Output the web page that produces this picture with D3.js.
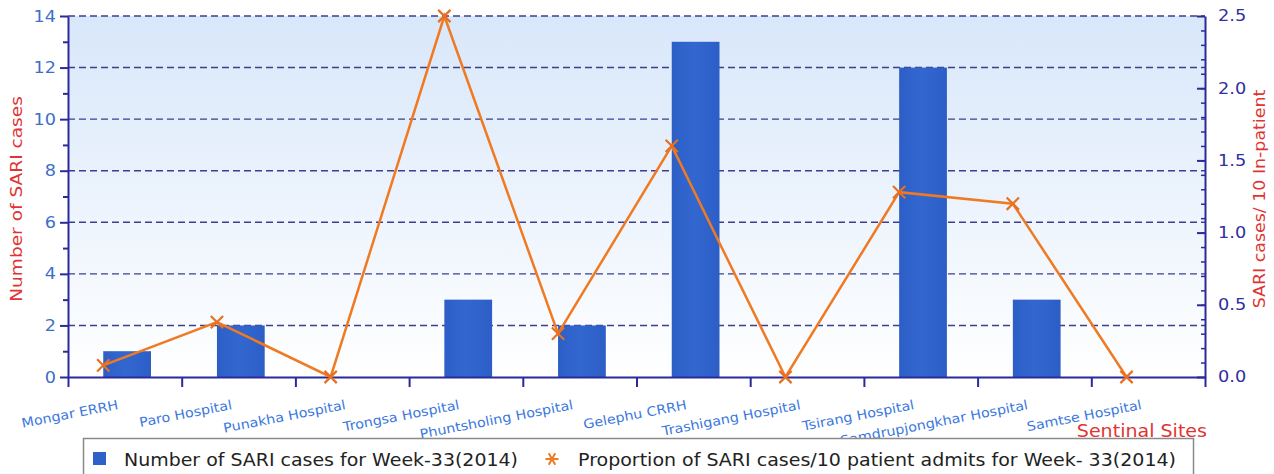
<!DOCTYPE html>
<html>
<head>
<meta charset="utf-8">
<script src="https://cdn.jsdelivr.net/npm/d3@7"></script>
<style>
  body { margin: 0; background: #fff; }
  svg { display: block; font-family: "DejaVu Sans", sans-serif; }
</style>
</head>
<body>
<div id="chart"></div>
<script>
// ---------- data
const sites = ["Mongar ERRH", "Paro Hospital", "Punakha Hospital", "Trongsa Hospital",
  "Phuntsholing Hospital", "Gelephu CRRH", "Trashigang Hospital", "Tsirang Hospital",
  "Samdrupjongkhar Hospital", "Samtse Hospital"]
const sariCases = [1, 2, 0, 3, 2, 13, 0, 12, 3, 0]
const sariProportion = [0.08, 0.38, 0, 2.5, 0.3, 1.6, 0, 1.28, 1.2, 0]
const leftTicks = [0, 2, 4, 6, 8, 10, 12, 14]
const rightTicks = [0, 0.5, 1, 1.5, 2, 2.5]
const barLabel = "Number of SARI cases for Week-33(2014)"
const lineLabel = "Proportion of SARI cases/10 patient admits for Week- 33(2014)"

// ---------- dimensions
const dims = { width: 1274, height: 474, margin: { top: 16, right: 69, bottom: 97, left: 68 } }
dims.boundedWidth = dims.width - dims.margin.left - dims.margin.right
dims.boundedHeight = dims.height - dims.margin.top - dims.margin.bottom

const svg = d3.select("#chart").append("svg")
  .attr("width", dims.width)
  .attr("height", dims.height)

const defs = svg.append("defs")
const bg = defs.append("linearGradient").attr("id", "bg").attr("x1", 0).attr("y1", 0).attr("x2", 0).attr("y2", 1)
bg.append("stop").attr("offset", "0%").attr("stop-color", "#d8e7fa")
bg.append("stop").attr("offset", "100%").attr("stop-color", "#ffffff")
const barGrad = defs.append("linearGradient").attr("id", "barGrad").attr("x1", 0).attr("y1", 0).attr("x2", 1).attr("y2", 0)
barGrad.append("stop").attr("offset", "0%").attr("stop-color", "#2c5ec6")
barGrad.append("stop").attr("offset", "45%").attr("stop-color", "#3367d0")
barGrad.append("stop").attr("offset", "100%").attr("stop-color", "#2c5ec6")

const bounds = svg.append("g")
  .attr("transform", `translate(${dims.margin.left},${dims.margin.top})`)

// stretch text a little wider, the original font runs wider than DejaVu
const widen = (sel, k) => sel.each(function () {
  const w = this.getComputedTextLength()
  d3.select(this).attr("textLength", w * k).attr("lengthAdjust", "spacingAndGlyphs")
})

// ---------- scales
const xScale = d3.scaleBand().domain(sites).range([0, dims.boundedWidth]).padding(0)
const bw = xScale.bandwidth()
const xEdge = d3.scaleLinear().domain([0, sites.length]).range([0, dims.boundedWidth])
const yLeft = d3.scaleLinear().domain([0, 14]).range([dims.boundedHeight, 0])
const yRight = d3.scaleLinear().domain([0, 2.5]).range([dims.boundedHeight, 0])

// ---------- background + grid
bounds.append("rect")
  .attr("width", dims.boundedWidth)
  .attr("height", dims.boundedHeight)
  .attr("fill", "url(#bg)")

bounds.append("g").selectAll("line")
  .data(leftTicks.filter(d => d > 0))
  .join("line")
  .attr("x1", 0).attr("x2", dims.boundedWidth)
  .attr("y1", d => yLeft(d)).attr("y2", d => yLeft(d))
  .attr("stroke", "#3b3f8f")
  .attr("stroke-width", 1.4)
  .attr("stroke-dasharray", "7,4")

// ---------- bars
bounds.append("g").selectAll("rect")
  .data(sariCases)
  .join("rect")
  .attr("x", (d, i) => xScale(sites[i]) + bw * 0.31)
  .attr("width", bw * 0.42)
  .attr("y", d => yLeft(d))
  .attr("height", d => dims.boundedHeight - yLeft(d))
  .attr("fill", "url(#barGrad)")

// ---------- axes
const axisColor = "#2a2a9c"

const xAxis = bounds.append("g")
  .attr("transform", `translate(0,${dims.boundedHeight})`)
  .call(d3.axisBottom(xEdge).tickValues(d3.range(0, sites.length + 1)).tickFormat("").tickSize(10).tickSizeOuter(0))
xAxis.select(".domain").attr("stroke", axisColor).attr("stroke-width", 2)
xAxis.selectAll(".tick line").attr("stroke", axisColor).attr("stroke-width", 2)

const yAxisL = bounds.append("g")
  .call(d3.axisLeft(yLeft).tickValues(leftTicks).tickSize(8).tickPadding(4).tickSizeOuter(0))
yAxisL.select(".domain").attr("stroke", axisColor).attr("stroke-width", 2)
yAxisL.selectAll(".tick line").attr("stroke", axisColor).attr("stroke-width", 2)
yAxisL.selectAll(".tick text").attr("fill", "#3d6ec9").attr("font-size", 16).attr("font-family", "DejaVu Sans")
  .call(widen, 1.1)

const yAxisLMinor = bounds.append("g")
  .call(d3.axisLeft(yLeft).tickValues(d3.range(1, 14, 2)).tickSize(5).tickFormat("").tickSizeOuter(0))
yAxisLMinor.select(".domain").remove()
yAxisLMinor.selectAll(".tick line").attr("stroke", axisColor).attr("stroke-width", 2)

const yAxisR = bounds.append("g")
  .attr("transform", `translate(${dims.boundedWidth},0)`)
  .call(d3.axisRight(yRight).tickValues(rightTicks).tickSize(-8).tickPadding(13).tickFormat(d3.format(".1f")).tickSizeOuter(0))
yAxisR.select(".domain").attr("stroke", axisColor).attr("stroke-width", 2)
yAxisR.selectAll(".tick line").attr("stroke", axisColor).attr("stroke-width", 2)
yAxisR.selectAll(".tick text").attr("fill", "#30309e").attr("font-size", 15).attr("font-family", "DejaVu Sans")
  .call(widen, 1.18)

const yAxisRMinor = bounds.append("g")
  .attr("transform", `translate(${dims.boundedWidth},0)`)
  .call(d3.axisRight(yRight).tickValues(d3.range(1, 25).map(d => d / 10)).tickSize(-4).tickFormat("").tickSizeOuter(0))
yAxisRMinor.select(".domain").remove()
yAxisRMinor.selectAll(".tick line").attr("stroke", axisColor).attr("stroke-width", 1.5)

// ---------- line + markers
const lineGenerator = d3.line()
  .x((d, i) => xScale(sites[i]) + bw * 0.31)
  .y(d => yRight(d))

bounds.append("path")
  .datum(sariProportion)
  .attr("d", lineGenerator)
  .attr("fill", "none")
  .attr("stroke", "#f07a22")
  .attr("stroke-width", 2.5)

bounds.append("g").selectAll("path")
  .data(sariProportion)
  .join("path")
  .attr("transform", (d, i) => `translate(${xScale(sites[i]) + bw * 0.31},${yRight(d)})`)
  .attr("d", d3.symbol().type(d3.symbolTimes).size(100)())
  .attr("fill", "none")
  .attr("stroke", "#e8701e")
  .attr("stroke-width", 2.2)

// ---------- category labels
bounds.append("g").selectAll("text")
  .data(sites)
  .join("text")
  .attr("transform", d => `translate(${xScale(d) + bw / 2 - 6},${dims.boundedHeight + 32}) rotate(-11)`)
  .attr("text-anchor", "end")
  .attr("font-size", 13)
  .attr("fill", "#3b78e0")
  .text(d => d)
  .call(widen, 1.1)

// ---------- axis titles
svg.append("text")
  .attr("transform", `translate(22,199) rotate(-90)`)
  .attr("text-anchor", "middle")
  .attr("font-size", 16)
  .attr("fill", "#e03434")
  .text("Number of SARI cases")
  .call(widen, 1.16)

svg.append("text")
  .attr("transform", `translate(1265,199) rotate(-90)`)
  .attr("text-anchor", "middle")
  .attr("font-size", 15)
  .attr("fill", "#e03434")
  .text("SARI cases/ 10 In-patient")
  .call(widen, 1.16)

svg.append("text")
  .attr("x", 1207).attr("y", 437)
  .attr("text-anchor", "end")
  .attr("font-size", 17)
  .attr("fill", "#e03434")
  .text("Sentinal Sites")
  .call(widen, 1.12)

// ---------- legend
const legend = svg.append("g")
legend.append("rect")
  .attr("x", 83.5).attr("y", 438.5)
  .attr("width", 1110).attr("height", 50)
  .attr("fill", "#ffffff")
  .attr("stroke", "#8a8a8a")
  .attr("stroke-width", 1.5)

legend.append("rect")
  .attr("x", 93).attr("y", 452)
  .attr("width", 13).attr("height", 13)
  .attr("fill", "#2f62c9")

legend.append("text")
  .attr("x", 124).attr("y", 466)
  .attr("font-size", 17)
  .attr("fill", "#222")
  .text(barLabel)
  .attr("textLength", 394)
  .attr("lengthAdjust", "spacingAndGlyphs")

legend.append("path")
  .attr("transform", "translate(552,459) rotate(90)")
  .attr("d", d3.symbol().type(d3.symbolAsterisk).size(120)())
  .attr("fill", "none")
  .attr("stroke", "#f07a22")
  .attr("stroke-width", 2)

legend.append("text")
  .attr("x", 578).attr("y", 466)
  .attr("font-size", 17)
  .attr("fill", "#222")
  .text(lineLabel)
  .attr("textLength", 598)
  .attr("lengthAdjust", "spacingAndGlyphs")
</script>
</body>
</html>
